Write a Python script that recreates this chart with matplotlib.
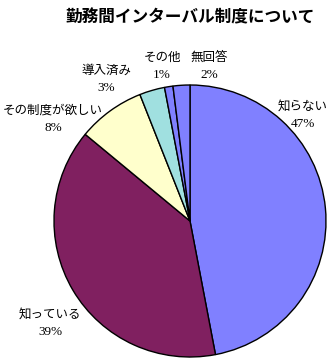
import matplotlib
matplotlib.use("Agg")
import matplotlib.pyplot as plt

labels = ["知らない", "知っている", "その制度が欲しい", "導入済み", "その他", "無回答"]
values = [47, 39, 8, 3, 1, 2]
colors = ["#8080FF", "#802060", "#FFFFCC", "#A0E0E0", "#8080FF", "#8080FF"]
# label centres in pixels (x, y from top) for name and percent
label_pos = [(303, 106), (50, 314), (53, 110), (106, 70), (162, 57), (209, 57)]

W, H = 331, 364
fig = plt.figure(figsize=(W / 100, H / 100), dpi=100)
cx, cy, r = 190, 221, 136
ax = fig.add_axes([(cx - r) / W, (H - cy - r) / H, 2 * r / W, 2 * r / H])
ax.pie(values, colors=colors, startangle=90, counterclock=False,
       wedgeprops=dict(edgecolor="black", linewidth=1.0))
ax.set_xlim(-1, 1)
ax.set_ylim(-1, 1)
ax.set_aspect("equal")
ax.axis("off")

jp = ["Noto Sans CJK JP", "DejaVu Sans"]
fig.text(190 / W, 1 - 17 / H, "勤務間インターバル制度について", ha="center", va="center",
         fontsize=12, fontweight="bold", family=jp)
for lab, v, (x, y) in zip(labels, values, label_pos):
    fig.text(x / W, 1 - y / H, lab, ha="center", va="center", fontsize=9, family=jp)
    fig.text(x / W, 1 - (y + 18) / H, f"{v}%", ha="center", va="center", fontsize=9.5,
             family="Liberation Serif")

fig.savefig("out.png", dpi=100)
